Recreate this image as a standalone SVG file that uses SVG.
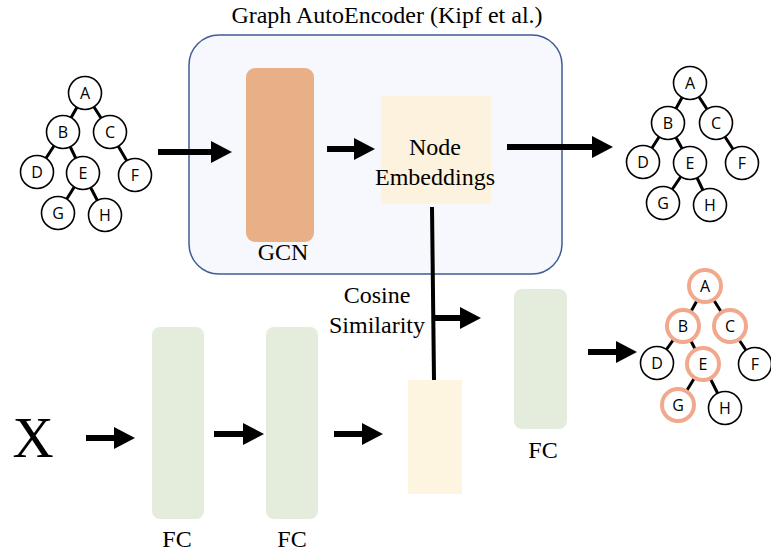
<svg xmlns="http://www.w3.org/2000/svg" width="771" height="553" viewBox="0 0 771 553">
<style>
.serif{font-family:"Liberation Serif","Times New Roman",serif;font-size:24px;fill:#000;text-anchor:middle}
.lbl{font-family:"Open Sans","Noto Sans",sans-serif;font-size:16px;fill:#000;text-anchor:middle;dominant-baseline:central}
.nd{fill:#fff;stroke:#000;stroke-width:1.6}
.ndr{fill:#fff;stroke:#f2a88c;stroke-width:4}
.ed{stroke:#000;stroke-width:3}
.ar{stroke:#000;stroke-width:6;fill:none}
.fc{fill:#e4eddc}
</style>
<defs>
<marker id="ah" markerUnits="userSpaceOnUse" markerWidth="22" markerHeight="24" refX="6" refY="12" orient="auto" viewBox="0 0 22 24">
<path d="M0,1 L21,12 L0,23 z" fill="#000"/>
</marker>
</defs>
<rect width="771" height="553" fill="#fff"/>

<g id="autoencoder">
<rect x="189" y="35" width="373" height="239" rx="30" fill="#f7f8fd" stroke="#3f5c95" stroke-width="1.5"/>
<text class="serif" x="387" y="23">Graph AutoEncoder (Kipf et al.)</text>
</g>

<g id="gcn">
<rect x="246" y="68" width="68" height="174" rx="9" fill="#e9af87"/>
<text class="serif" x="283" y="260">GCN</text>
</g>

<g id="node-embeddings">
<rect x="381" y="96" width="110" height="108" fill="#fcf2de"/>
<text class="serif" x="435" y="155">Node</text>
<text class="serif" x="435" y="185">Embeddings</text>
</g>

<g id="emb2">
<rect x="408" y="380" width="54" height="114" fill="#fdf5e0"/>
</g>

<g id="fc1">
<rect class="fc" x="152" y="327" width="52" height="192" rx="8"/>
<text class="serif" x="177" y="547">FC</text>
</g>
<g id="fc2">
<rect class="fc" x="266" y="327" width="52" height="192" rx="8"/>
<text class="serif" x="292" y="547">FC</text>
</g>
<g id="fc3">
<rect class="fc" x="514" y="289" width="53" height="140" rx="8"/>
<text class="serif" x="543" y="458">FC</text>
</g>

<g id="x-input">
<text x="33" y="457" style="font-family:'Liberation Serif','Times New Roman',serif;font-size:57px;text-anchor:middle">X</text>
</g>

<g id="cosine-label">
<text class="serif" x="377" y="303">Cosine</text>
<text class="serif" x="377" y="333">Similarity</text>
</g>

<g id="connectors">
<line class="ar" x1="158" y1="152" x2="217" y2="152" marker-end="url(#ah)"/>
<line class="ar" x1="327" y1="149" x2="360" y2="149" marker-end="url(#ah)"/>
<line class="ar" x1="507" y1="147" x2="598" y2="147" marker-end="url(#ah)"/>
<line x1="432" y1="207" x2="434" y2="380" stroke="#000" stroke-width="4"/>
<line class="ar" x1="434" y1="318" x2="466" y2="318" marker-end="url(#ah)"/>
<line class="ar" x1="86" y1="438" x2="120" y2="438" marker-end="url(#ah)"/>
<line class="ar" x1="214" y1="434" x2="249" y2="434" marker-end="url(#ah)"/>
<line class="ar" x1="334" y1="434" x2="368" y2="434" marker-end="url(#ah)"/>
<line class="ar" x1="588" y1="352" x2="622" y2="352" marker-end="url(#ah)"/>
</g>

<g id="tree-input">
<path class="ed" d="M85,93 L63,132 M85,93 L110,132 M63,132 L37,172 M63,132 L83,173 M110,132 L135,175 M83,173 L58,213 M83,173 L105,215"/>
<circle class="nd" cx="85" cy="93" r="16.5"/><text class="lbl" x="85" y="93">A</text>
<circle class="nd" cx="63" cy="132" r="16.5"/><text class="lbl" x="63" y="132">B</text>
<circle class="nd" cx="110" cy="132" r="16.5"/><text class="lbl" x="110" y="132">C</text>
<circle class="nd" cx="37" cy="172" r="16.5"/><text class="lbl" x="37" y="172">D</text>
<circle class="nd" cx="83" cy="173" r="16.5"/><text class="lbl" x="83" y="173">E</text>
<circle class="nd" cx="135" cy="175" r="16.5"/><text class="lbl" x="135" y="175">F</text>
<circle class="nd" cx="58" cy="213" r="16.5"/><text class="lbl" x="58" y="213">G</text>
<circle class="nd" cx="105" cy="215" r="16.5"/><text class="lbl" x="105" y="215">H</text>
</g>

<g id="tree-output">
<path class="ed" d="M690,83 L668,123 M690,83 L716,123 M668,123 L643,162 M668,123 L690,163 M716,123 L742,163 M690,163 L663,203 M690,163 L710,205"/>
<circle class="nd" cx="690" cy="83" r="16.5"/><text class="lbl" x="690" y="83">A</text>
<circle class="nd" cx="668" cy="123" r="16.5"/><text class="lbl" x="668" y="123">B</text>
<circle class="nd" cx="716" cy="123" r="16.5"/><text class="lbl" x="716" y="123">C</text>
<circle class="nd" cx="643" cy="162" r="16.5"/><text class="lbl" x="643" y="162">D</text>
<circle class="nd" cx="690" cy="163" r="16.5"/><text class="lbl" x="690" y="163">E</text>
<circle class="nd" cx="742" cy="163" r="16.5"/><text class="lbl" x="742" y="163">F</text>
<circle class="nd" cx="663" cy="203" r="16.5"/><text class="lbl" x="663" y="203">G</text>
<circle class="nd" cx="710" cy="205" r="16.5"/><text class="lbl" x="710" y="205">H</text>
</g>

<g id="tree-highlight">
<path class="ed" d="M705,286 L683,326 M705,286 L730,326 M683,326 L657,363 M683,326 L703,364 M730,326 L755,364 M703,364 L678,405 M703,364 L725,408"/>
<circle class="ndr" cx="705" cy="286" r="16"/><text class="lbl" x="705" y="286">A</text>
<circle class="ndr" cx="683" cy="326" r="16"/><text class="lbl" x="683" y="326">B</text>
<circle class="ndr" cx="730" cy="326" r="16"/><text class="lbl" x="730" y="326">C</text>
<circle class="nd" cx="657" cy="363" r="16.5"/><text class="lbl" x="657" y="363">D</text>
<circle class="ndr" cx="703" cy="364" r="16"/><text class="lbl" x="703" y="364">E</text>
<circle class="nd" cx="755" cy="364" r="16.5"/><text class="lbl" x="755" y="364">F</text>
<circle class="ndr" cx="678" cy="405" r="16"/><text class="lbl" x="678" y="405">G</text>
<circle class="nd" cx="725" cy="408" r="16.5"/><text class="lbl" x="725" y="408">H</text>
</g>
</svg>
